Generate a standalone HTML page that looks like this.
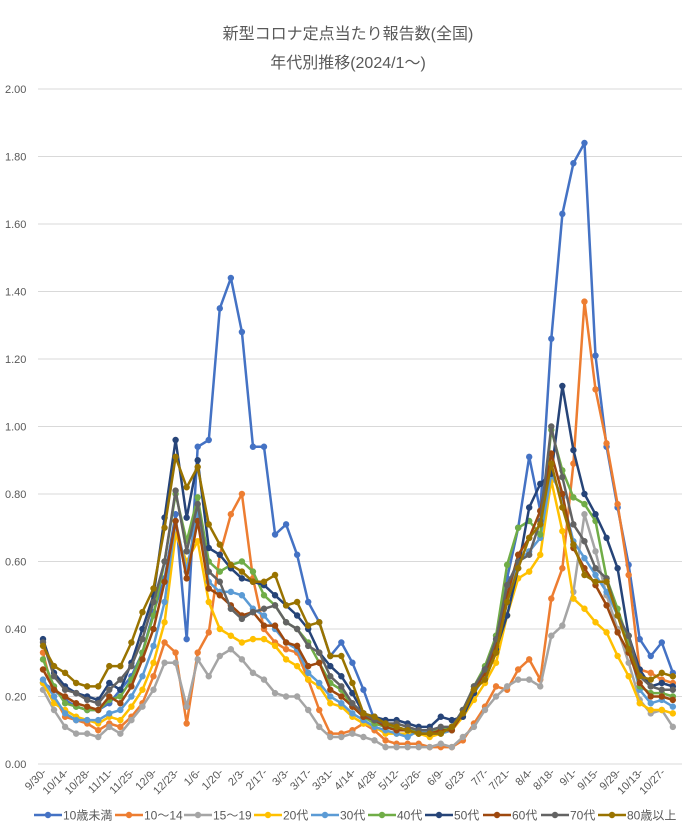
<!DOCTYPE html>
<html><head><meta charset="utf-8">
<style>
html,body{margin:0;padding:0;background:#fff;}
svg{display:block;font-family:"Liberation Sans","Noto Sans CJK JP",sans-serif;}
</style></head>
<body>
<svg id="c" width="691" height="831" xmlns="http://www.w3.org/2000/svg">
<text x="348" y="39" text-anchor="middle" font-size="16" fill="#595959">新型コロナ定点当たり報告数(全国)</text>
<text x="348" y="68" text-anchor="middle" font-size="16" fill="#595959">年代別推移(2024/1〜)</text>
</svg>
<script>
const svg=document.getElementById('c');const NS='http://www.w3.org/2000/svg';
function el(t,a,txt){const e=document.createElementNS(NS,t);for(const k in a)e.setAttribute(k,a[k]);if(txt!==undefined)e.textContent=txt;svg.appendChild(e);return e;}
const Y=v=>764-v*337.5, X=i=>43+i*11.05;
for(let k=0;k<=10;k++){const v=k*0.2,y=Y(v);el('line',{x1:38,x2:682,y1:y,y2:y,stroke:'#d9d9d9','stroke-width':1});
el('text',{x:5,y:y+4,'font-size':11,fill:'#595959'},v.toFixed(2));}
const labs=['9/30-','10/14-','10/28-','11/11-','11/25-','12/9-','12/23-','1/6-','1/20-','2/3-','2/17-','3/3-','3/17-','3/31-','4/14-','4/28-','5/12-','5/26-','6/9-','6/23-','7/7-','7/21-','8/4-','8/18-','9/1-','9/15-','9/29-','10/13-','10/27-'];
labs.forEach((l,j)=>{const x=X(j*2)+4,y=773;el('text',{x:x,y:y,'font-size':11,fill:'#595959','text-anchor':'end',transform:`rotate(-45 ${x} ${y})`},l);});
const S=[
['10歳未満','#4472C4',[0.24,0.22,0.19,0.17,0.16,0.16,0.18,0.22,0.26,0.33,0.45,0.55,0.74,0.37,0.94,0.96,1.35,1.44,1.28,0.94,0.94,0.68,0.71,0.62,0.48,0.42,0.32,0.36,0.30,0.22,0.13,0.11,0.10,0.10,0.10,0.10,0.10,0.11,0.15,0.22,0.28,0.38,0.55,0.70,0.91,0.75,1.26,1.63,1.78,1.84,1.21,0.94,0.76,0.59,0.37,0.32,0.36,0.27]],
['10〜14','#ED7D31',[0.33,0.20,0.14,0.13,0.12,0.10,0.12,0.11,0.14,0.18,0.26,0.36,0.33,0.12,0.33,0.39,0.62,0.74,0.80,0.55,0.40,0.36,0.34,0.33,0.25,0.16,0.09,0.09,0.10,0.12,0.10,0.07,0.06,0.06,0.06,0.05,0.05,0.05,0.07,0.12,0.17,0.23,0.22,0.28,0.31,0.25,0.49,0.58,0.89,1.37,1.11,0.95,0.77,0.56,0.28,0.27,0.25,0.24]],
['15〜19','#A5A5A5',[0.22,0.16,0.11,0.09,0.09,0.08,0.11,0.09,0.13,0.17,0.22,0.30,0.30,0.17,0.31,0.26,0.32,0.34,0.31,0.27,0.25,0.21,0.20,0.20,0.16,0.11,0.08,0.08,0.09,0.08,0.07,0.05,0.05,0.05,0.05,0.05,0.06,0.05,0.08,0.11,0.16,0.20,0.23,0.25,0.25,0.23,0.38,0.41,0.51,0.74,0.63,0.50,0.40,0.30,0.19,0.15,0.16,0.11]],
['20代','#FFC000',[0.24,0.18,0.16,0.14,0.13,0.12,0.14,0.13,0.17,0.22,0.30,0.42,0.68,0.60,0.66,0.48,0.40,0.38,0.36,0.37,0.37,0.35,0.31,0.29,0.25,0.23,0.18,0.17,0.14,0.12,0.11,0.09,0.09,0.09,0.09,0.08,0.09,0.10,0.14,0.19,0.24,0.30,0.44,0.55,0.57,0.62,0.84,0.69,0.49,0.46,0.42,0.39,0.32,0.26,0.18,0.16,0.16,0.15]],
['30代','#5B9BD5',[0.25,0.20,0.15,0.13,0.13,0.13,0.15,0.16,0.20,0.26,0.35,0.48,0.72,0.57,0.75,0.54,0.51,0.51,0.50,0.46,0.44,0.40,0.36,0.34,0.27,0.24,0.20,0.18,0.15,0.13,0.11,0.10,0.09,0.08,0.10,0.09,0.09,0.10,0.15,0.21,0.26,0.33,0.48,0.60,0.63,0.67,0.86,0.79,0.66,0.61,0.56,0.51,0.44,0.35,0.22,0.18,0.19,0.17]],
['40代','#70AD47',[0.31,0.23,0.18,0.17,0.16,0.16,0.19,0.20,0.25,0.33,0.44,0.60,0.80,0.66,0.79,0.60,0.57,0.59,0.60,0.57,0.50,0.47,0.42,0.40,0.36,0.30,0.24,0.22,0.17,0.14,0.12,0.11,0.11,0.10,0.10,0.10,0.10,0.11,0.16,0.23,0.29,0.38,0.59,0.70,0.72,0.68,0.99,0.87,0.79,0.77,0.72,0.55,0.46,0.36,0.23,0.21,0.21,0.20]],
['50代','#264478',[0.37,0.27,0.23,0.21,0.20,0.19,0.24,0.22,0.30,0.40,0.50,0.73,0.96,0.73,0.90,0.64,0.62,0.58,0.55,0.54,0.53,0.50,0.47,0.44,0.40,0.33,0.29,0.26,0.21,0.15,0.14,0.13,0.13,0.12,0.11,0.11,0.14,0.13,0.14,0.21,0.28,0.34,0.44,0.58,0.76,0.83,0.86,1.12,0.93,0.80,0.74,0.67,0.58,0.38,0.28,0.23,0.24,0.23]],
['60代','#9E480E',[0.28,0.22,0.20,0.18,0.17,0.16,0.20,0.18,0.23,0.31,0.40,0.54,0.72,0.55,0.72,0.52,0.50,0.47,0.44,0.45,0.41,0.41,0.36,0.35,0.29,0.30,0.22,0.20,0.17,0.14,0.13,0.11,0.10,0.10,0.09,0.09,0.10,0.10,0.15,0.22,0.27,0.35,0.50,0.62,0.67,0.75,0.92,0.80,0.64,0.58,0.53,0.47,0.39,0.33,0.24,0.20,0.20,0.19]],
['70代','#636363',[0.36,0.26,0.22,0.21,0.19,0.18,0.22,0.25,0.29,0.37,0.48,0.60,0.81,0.63,0.77,0.57,0.54,0.46,0.43,0.45,0.46,0.47,0.42,0.40,0.35,0.33,0.26,0.23,0.18,0.15,0.13,0.12,0.12,0.11,0.10,0.10,0.11,0.11,0.16,0.23,0.28,0.37,0.53,0.60,0.62,0.72,1.00,0.85,0.71,0.66,0.58,0.55,0.44,0.38,0.26,0.23,0.22,0.22]],
['80歳以上','#997300',[0.35,0.29,0.27,0.24,0.23,0.23,0.29,0.29,0.36,0.45,0.52,0.70,0.91,0.82,0.88,0.71,0.65,0.59,0.57,0.54,0.54,0.56,0.47,0.48,0.41,0.42,0.32,0.32,0.24,0.15,0.14,0.12,0.11,0.10,0.09,0.09,0.09,0.11,0.15,0.22,0.25,0.33,0.48,0.58,0.67,0.71,0.89,0.76,0.65,0.56,0.54,0.54,0.44,0.34,0.26,0.25,0.27,0.26]]
];
S.forEach(s=>{const pts=s[2].map((v,i)=>X(i).toFixed(1)+','+Y(v).toFixed(1)).join(' ');
el('polyline',{points:pts,fill:'none',stroke:s[1],'stroke-width':2.5,'stroke-linejoin':'round'});
s[2].forEach((v,i)=>el('circle',{cx:X(i),cy:Y(v),r:3.2,fill:s[1]}));});
// legend
const lx=[34,115,184,254,311,368,425,483,541,598];
S.forEach((s,j)=>{const x=lx[j],y=815;el('line',{x1:x,x2:x+28,y1:y,y2:y,stroke:s[1],'stroke-width':2.5});
el('circle',{cx:x+14,cy:y,r:3.2,fill:s[1]});el('text',{x:x+29,y:y+4.5,'font-size':12,fill:'#595959'},s[0]);});
</script>
</body></html>
